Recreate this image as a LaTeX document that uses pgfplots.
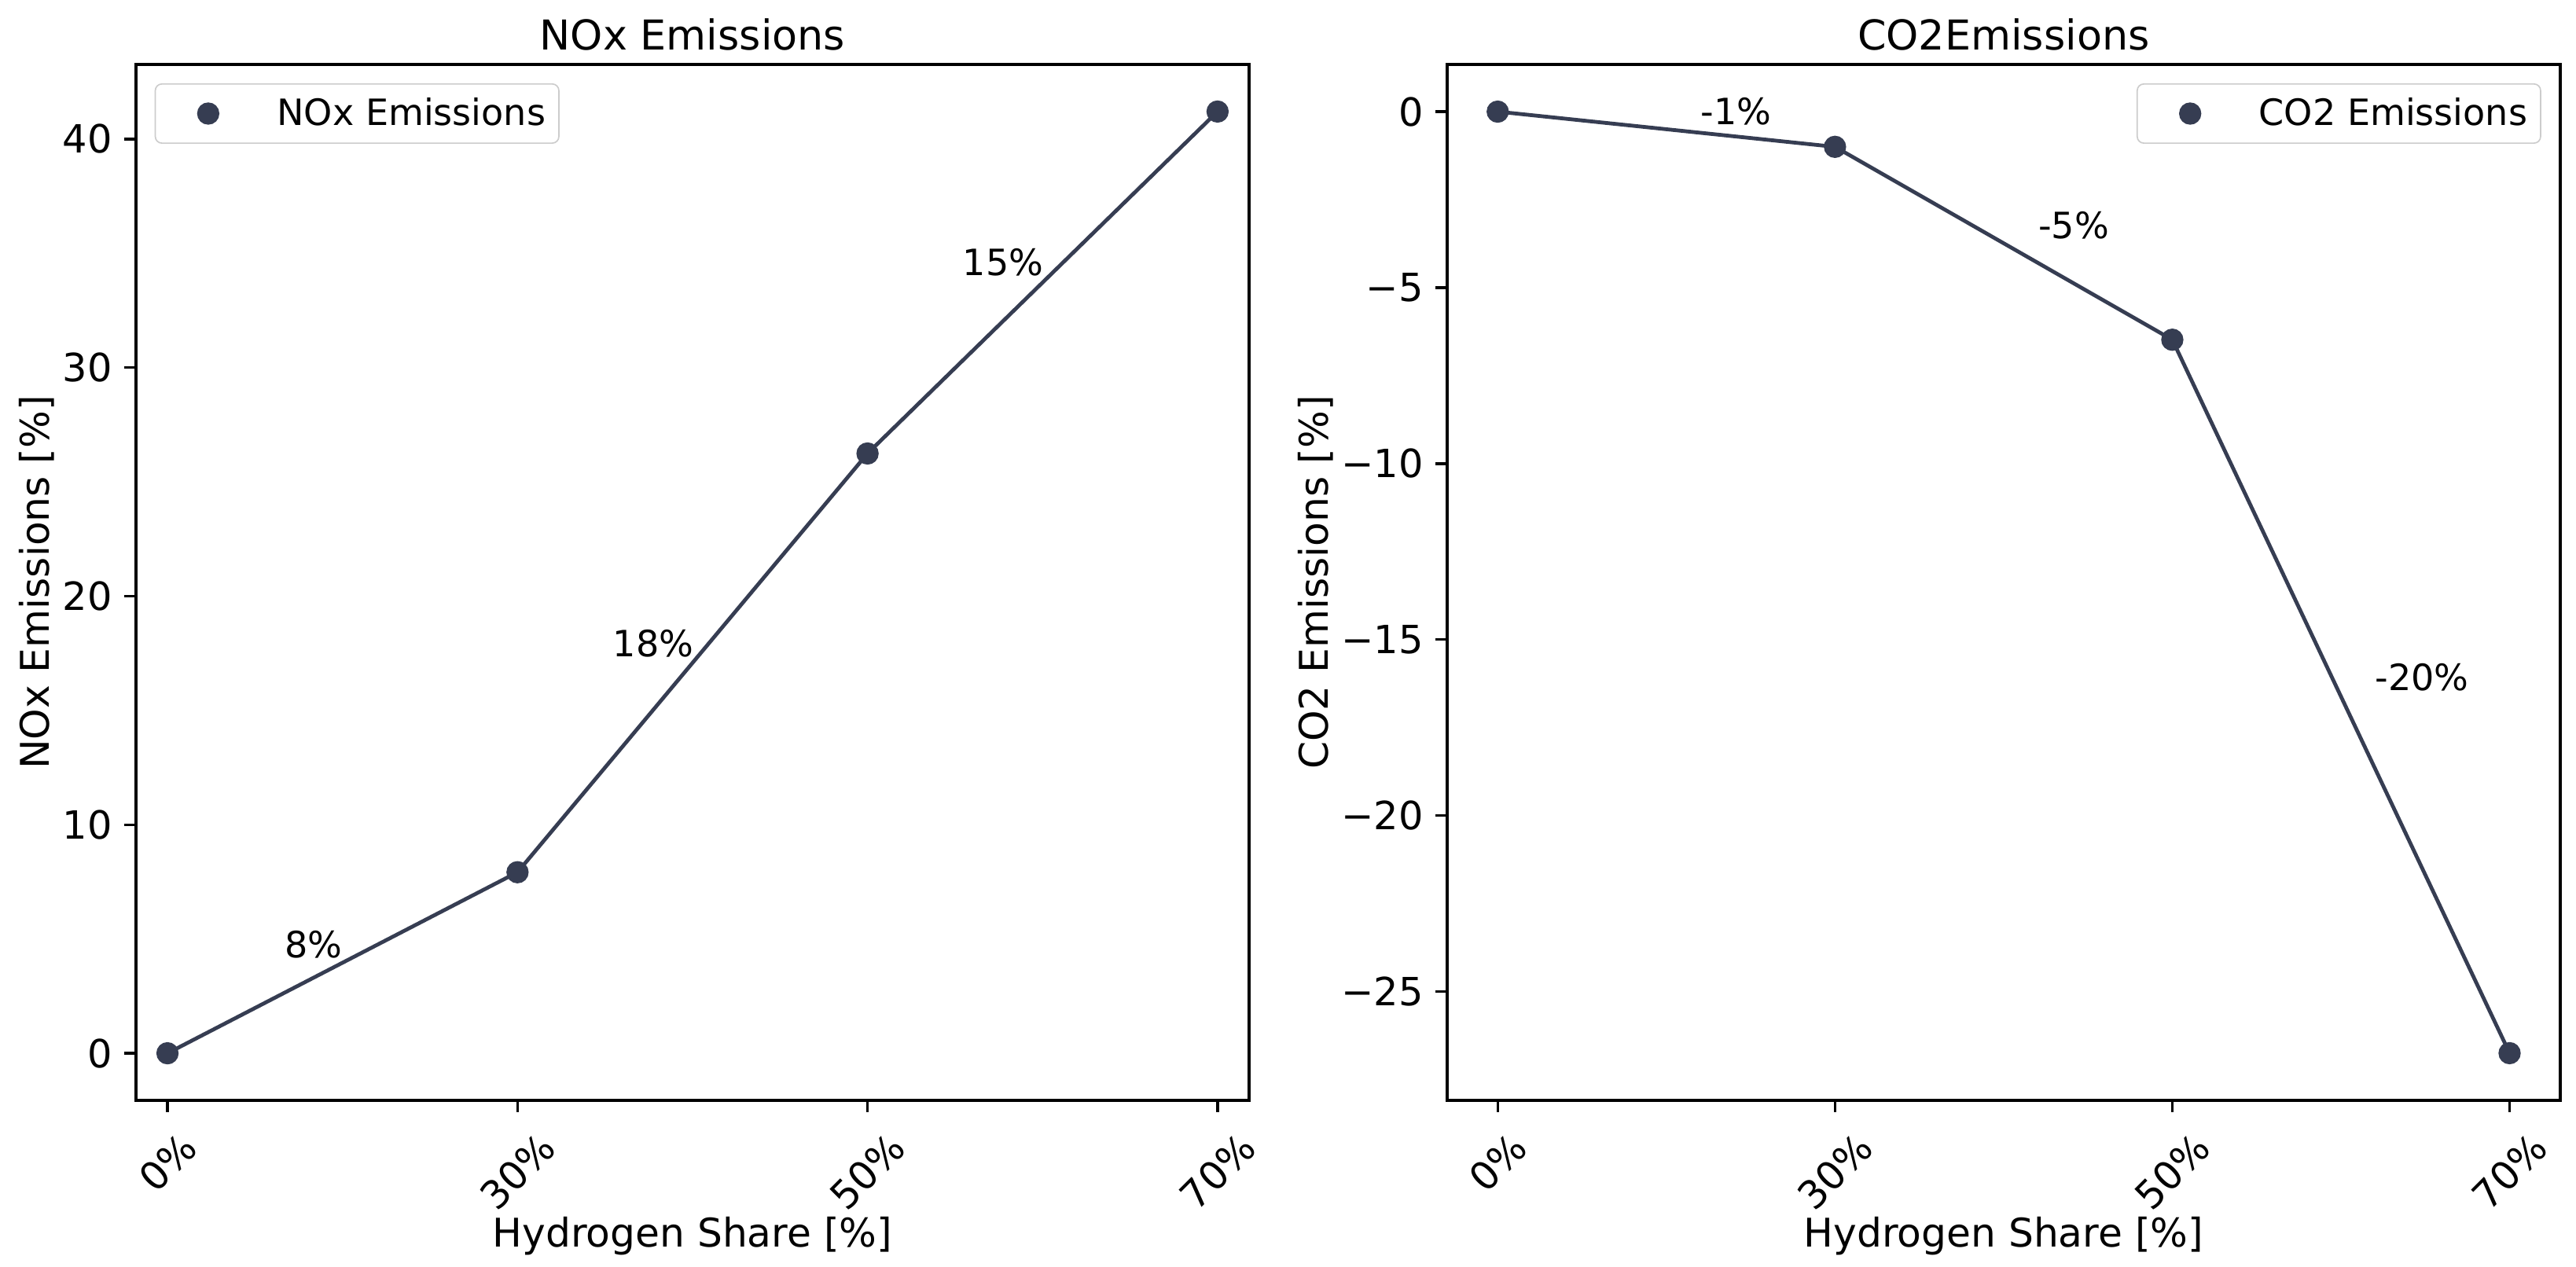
\documentclass[border=0pt]{standalone}
\usepackage{fontspec}
\setmainfont{DejaVu Sans}
\usepackage{pgfplots}
\pgfplotsset{compat=1.18}

\definecolor{slate}{RGB}{54,61,82}
\definecolor{legframe}{RGB}{204,204,204}

\newcommand{\tickf}{\fontsize{11.8}{14}\selectfont}
\newcommand{\labf}{\fontsize{12}{14}\selectfont}
\newcommand{\annf}{\fontsize{11}{13}\selectfont}

\pgfplotsset{
  emisplot/.style={slate, line width=1.15pt, mark=*, mark size=2.8pt,
    mark options={solid, fill=slate, draw=slate}},
  emis/.style={
    scale only axis,
    width=337.9pt, height=314.5pt,
    anchor=south west,
    axis line style={line width=0.8pt, black},
    tick style={line width=0.8pt, black},
    tick align=outside,
    major tick length=3.5pt,
    tick pos=left,
    xtick={0,1,2,3},
    xticklabels={\rotatebox{45}{0\%},\rotatebox{45}{30\%},\rotatebox{45}{50\%},\rotatebox{45}{70\%}},
    x tick label style={anchor=north, inner sep=0pt, yshift=-5.5pt},
    y tick label style={inner sep=0pt, xshift=-3.5pt},
    /pgf/number format/assume math mode=true,
    tick label style={font=\tickf},
    label style={font=\labf},
    xlabel={Hydrogen Share [\%]},
    xlabel style={at={(axis description cs:0.5,-0.1419)}, anchor=base},
    every axis title shift=0pt,
    title style={font=\fontsize{12.5}{15}\selectfont,
      at={(axis description cs:0.5,1.0139)}, anchor=base, yshift=0pt},
    legend style={draw=legframe, rounded corners=2pt, fill=white,
      inner xsep=4pt, inner ysep=4.3pt, font=\fontsize{11}{13}\selectfont,
      nodes={inner sep=0pt, text depth=0.1em}},
    legend cell align=left,
    legend image code/.code={\path (0pt,0pt) (31.8pt,0pt);
      \draw[#1, only marks] plot coordinates {(11.5pt,0pt)};},
  }
}

\begin{document}
\begin{tikzpicture}
\useasboundingbox (0pt,0pt) rectangle (782pt,384.67pt);

% NOx
\begin{axis}[emis,
    at={(41.28pt,50.59pt)},
    xmin=-0.09, xmax=3.09,
    ymin=-2.06, ymax=43.26,
    ytick={0,10,20,30,40},
    title={NOx Emissions},
    ylabel={NOx Emissions [\%]},
    ylabel style={at={(axis description cs:-0.0777,0.5)}, anchor=base},
    legend style={at={(axis description cs:0.01675,0.9818)}, anchor=north west},
]
\addplot[emisplot] coordinates {(0,0) (1,7.92) (2,26.24) (3,41.2)};
\addlegendentry{NOx Emissions}
\node[font=\annf] at (axis cs:0.417,4.76) {8\%};
\node[font=\annf] at (axis cs:1.388,17.91) {18\%};
\node[font=\annf] at (axis cs:2.387,34.62) {15\%};
\end{axis}

% CO2
\begin{axis}[emis,
    at={(439.3pt,50.59pt)},
    xmin=-0.15, xmax=3.15,
    ymin=-28.09, ymax=1.34,
    ytick={-25,-20,-15,-10,-5,0},
    yticklabels={−25,−20,−15,−10,−5,0},
    title={CO2Emissions},
    ylabel={CO2 Emissions [\%]},
    ylabel style={at={(axis description cs:-0.1067,0.5)}, anchor=base},
    legend style={at={(axis description cs:0.983,0.9818)}, anchor=north east},
]
\addplot[emisplot] coordinates {(0,0) (1,-1.0) (2,-6.48) (3,-26.75)};
\addlegendentry{CO2 Emissions}
\node[font=\annf] at (axis cs:0.707,0) {-1\%};
\node[font=\annf] at (axis cs:1.708,-3.22) {-5\%};
\node[font=\annf] at (axis cs:2.74,-16.06) {-20\%};
\end{axis}
\end{tikzpicture}
\end{document}
